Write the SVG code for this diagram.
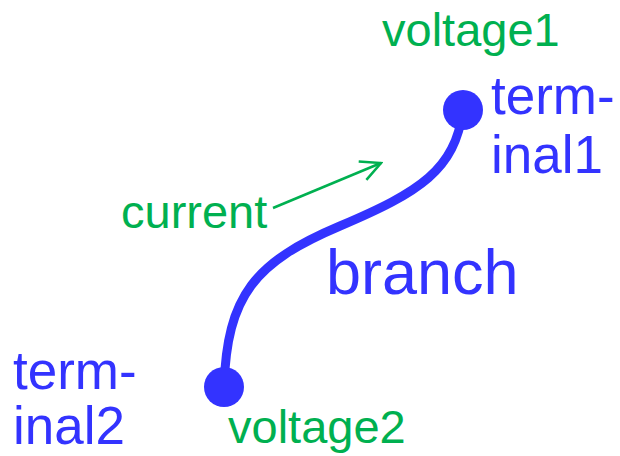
<svg xmlns="http://www.w3.org/2000/svg" width="620" height="456" viewBox="0 0 620 456">
<style>
.b{fill:#3333ff;font-family:"Liberation Sans",Arial,sans-serif}
.g{fill:#00b050;font-family:"Liberation Sans",Arial,sans-serif;font-size:47px}
.t{font-size:53px}
</style>
<defs>
<marker id="arr" viewBox="0 0 24 24" refX="22" refY="12" markerWidth="24" markerHeight="24" markerUnits="userSpaceOnUse" orient="auto">
<path d="M2,2 L22,12 L2,22" fill="none" stroke="#00b050" stroke-width="2.5"/>
</marker>
</defs>
<rect width="620" height="456" fill="#fff"/>
<g id="connectors">
<path id="branch" d="M224,387 C227,295 255,262 340,226 C420,192 455,170 463,110" fill="none" stroke="#3333ff" stroke-width="9"/>
<line id="current-arrow" x1="273" y1="208" x2="381" y2="163" stroke="#00b050" stroke-width="2.5" marker-end="url(#arr)"/>
</g>
<g id="terminal1">
<circle cx="463" cy="110" r="20" fill="#3333ff"/>
<text class="b t" x="491" y="114">term-</text>
<text class="b t" x="491" y="173">inal1</text>
<text class="g" x="382" y="46">voltage1</text>
</g>
<g id="terminal2">
<circle cx="224" cy="387" r="20" fill="#3333ff"/>
<text class="b t" x="13" y="389">term-</text>
<text class="b t" x="13" y="444">inal2</text>
<text class="g" x="228" y="443">voltage2</text>
</g>
<g id="labels">
<text class="b" x="326" y="294" font-size="63">branch</text>
<text class="g" x="121" y="228">current</text>
</g>
</svg>
